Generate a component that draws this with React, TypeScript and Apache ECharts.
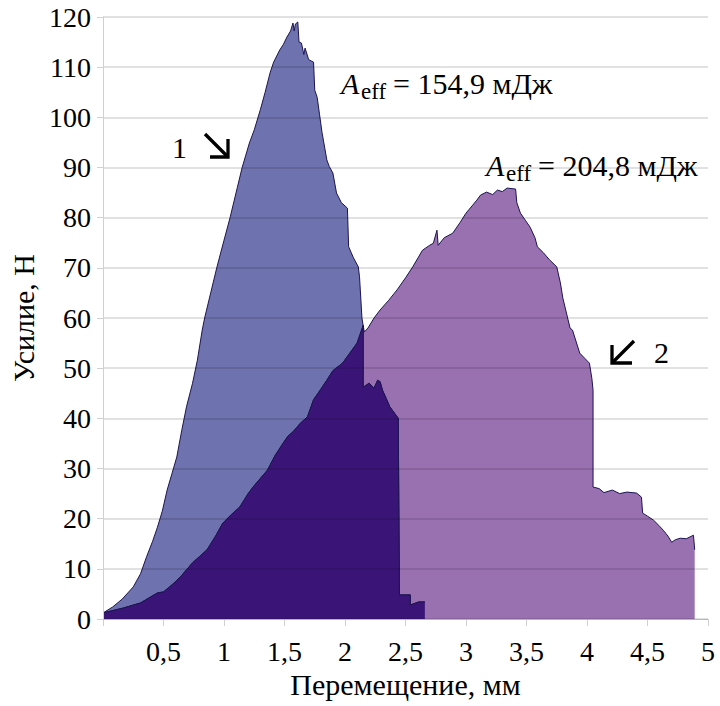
import React, { useEffect, useRef } from "react";
import * as echarts from "echarts";

// Displacement (mm), force (N) — curve 1
const curve1: [number, number][] = [
  [0, 1.2], [0.08, 2.4], [0.16, 4], [0.25, 6.4], [0.31, 9], [0.36, 12.4], [0.41, 15.5], [0.45, 18.3],
  [0.49, 21.5], [0.53, 25.7], [0.57, 29], [0.61, 32.3], [0.65, 37.5], [0.69, 42.3], [0.74, 47], [0.78, 51.6],
  [0.82, 57.6], [0.84, 60], [0.89, 65], [0.94, 70], [1.0, 75.5], [1.05, 80], [1.11, 86], [1.15, 90],
  [1.21, 94.9], [1.25, 97.5], [1.3, 101.5], [1.34, 105], [1.38, 108.8], [1.41, 111], [1.46, 113.4],
  [1.49, 114.5], [1.52, 116], [1.55, 117.2], [1.57, 118.8], [1.58, 117.2], [1.59, 118.6], [1.61, 119],
  [1.62, 115], [1.64, 114.8], [1.66, 112.5], [1.67, 113.8], [1.7, 111.5], [1.74, 111], [1.75, 105.4],
  [1.77, 104], [1.79, 100.5], [1.81, 97], [1.85, 91.5], [1.87, 90.2], [1.9, 88.9], [1.93, 84.9],
  [1.97, 83], [2.02, 81.9], [2.03, 74.2], [2.07, 72], [2.11, 70.2], [2.12, 68.2], [2.14, 60],
  [2.15, 58.5], [2.15, 46.2], [2.2, 47], [2.24, 46], [2.27, 47.6], [2.29, 47.3], [2.31, 45.6],
  [2.34, 44], [2.37, 42.3], [2.41, 41], [2.44, 40], [2.45, 4.8], [2.54, 4.8], [2.54, 2.8],
  [2.61, 3.4], [2.66, 3.4],
];

// Displacement (mm), force (N) — curve 2
const curve2: [number, number][] = [
  [0, 1.2], [0.17, 2.2], [0.31, 3.2], [0.45, 5.2], [0.5, 5.4], [0.57, 6.8], [0.64, 8.4], [0.74, 11.2],
  [0.86, 13.8], [0.93, 16.5], [0.99, 19.1], [1.06, 20.8], [1.13, 22.3], [1.2, 25], [1.24, 26.3],
  [1.3, 28], [1.36, 29.7], [1.42, 32.5], [1.49, 35.1], [1.53, 36.5], [1.57, 37.3], [1.63, 39],
  [1.69, 40.3], [1.74, 43.7], [1.8, 45.8], [1.85, 47.6], [1.9, 49.5], [1.98, 51], [2.04, 53],
  [2.1, 55], [2.15, 58.5], [2.16, 57.2], [2.19, 58], [2.24, 60], [2.29, 61.6], [2.36, 63.5],
  [2.43, 65.6], [2.5, 68], [2.56, 70.2], [2.64, 73.5], [2.7, 74.5], [2.73, 74.9], [2.76, 77.5],
  [2.77, 74.5], [2.82, 76], [2.89, 76.9], [2.95, 79], [3.0, 80.9], [3.09, 83.5], [3.12, 84.5],
  [3.17, 85.1], [3.22, 84.6], [3.26, 85.5], [3.3, 85.2], [3.34, 85.9], [3.41, 85.7], [3.42, 83],
  [3.45, 80.9], [3.49, 79.5], [3.53, 78.1], [3.57, 76], [3.59, 74.2], [3.64, 73], [3.69, 71.6],
  [3.75, 70.2], [3.78, 67], [3.8, 64], [3.83, 61], [3.86, 58], [3.88, 57.6], [3.94, 53], [3.98, 52],
  [4.02, 51], [4.04, 48], [4.05, 45.6], [4.05, 26.3], [4.1, 26], [4.14, 25.2], [4.21, 25.7],
  [4.27, 25], [4.33, 25.3], [4.41, 25.1], [4.45, 24.3], [4.46, 21.1], [4.5, 20.5], [4.55, 19.7],
  [4.6, 18.5], [4.63, 17.7], [4.67, 16.5], [4.7, 15.3], [4.73, 15.8], [4.77, 16.1], [4.82, 16],
  [4.88, 16.7], [4.89, 13.8],
];

const crossX = 2.15; // where curve 1 falls below curve 2
const energyLabels = ["154,9 мДж", "204,8 мДж"];
const curveLabels = ["1", "2"];

export default function App() {
  const ref = useRef<HTMLDivElement>(null);

  useEffect(() => {
    const el = ref.current;
    if (!el) return;
    const chart = echarts.init(el, null, { renderer: "svg" });

    const overlap = [
      ...curve2.filter((p) => p[0] < crossX),
      ...curve1.filter((p) => p[0] >= crossX),
    ];

    const txt = (x: number, y: number, text: string, size: number, italic: boolean) => ({
      type: "text",
      x,
      y,
      z: 10,
      style: italic
        ? { text, fill: "#000", fontSize: size, fontFamily: "Liberation Serif", fontStyle: "italic" }
        : { text, fill: "#000", fontSize: size, fontFamily: "Liberation Serif" },
    });

    const applySerif = () => {
      el.querySelectorAll("text").forEach((t) => {
        (t as SVGTextElement).style.fontFamily = '"Liberation Serif", "Times New Roman", serif';
      });
    };

    chart.on("rendered", applySerif);

    chart.setOption({
      animation: false,
      textStyle: { fontFamily: "Liberation Serif" },
      grid: { left: 103, right: 12, top: 17, bottom: 87 },
      xAxis: {
        type: "value",
        min: 0,
        max: 5,
        interval: 0.5,
        name: "Перемещение, мм",
        nameLocation: "middle",
        nameGap: 48,
        nameTextStyle: { fontSize: 30, fontFamily: "Liberation Serif", color: "#000" },
        axisLine: { show: true, lineStyle: { color: "#d0d0d0", width: 1 } },
        axisTick: { show: true, length: 7, lineStyle: { color: "#d0d0d0" } },
        axisLabel: {
          fontSize: 28,
          fontFamily: "Liberation Serif",
          color: "#000",
          margin: 18,
          formatter: (v: number) => (v === 0 ? "" : String(v).replace(".", ",")),
        },
        splitLine: { show: false },
      },
      yAxis: {
        type: "value",
        min: 0,
        max: 120,
        interval: 10,
        z: 5,
        name: "Усилие, Н",
        nameLocation: "middle",
        nameGap: 60,
        nameTextStyle: { fontSize: 30, fontFamily: "Liberation Serif", color: "#000" },
        axisLine: { show: true, lineStyle: { color: "#d0d0d0", width: 1 } },
        axisTick: { show: true, length: 6, lineStyle: { color: "#d0d0d0" } },
        axisLabel: { fontSize: 28, fontFamily: "Liberation Serif", color: "#000", margin: 12 },
        splitLine: { show: true, lineStyle: { color: "rgba(0,0,0,0.16)", width: 1.5 } },
      },
      series: [
        {
          type: "line",
          data: curve1,
          symbol: "none",
          lineStyle: { color: "#1c1550", width: 1 },
          areaStyle: { color: "#6e72ae", opacity: 1 },
          z: 2,
        },
        {
          type: "line",
          data: curve2,
          symbol: "none",
          lineStyle: { color: "#1c1550", width: 1 },
          areaStyle: { color: "#9a71b0", opacity: 1 },
          z: 2,
        },
        {
          type: "line",
          data: overlap,
          symbol: "none",
          lineStyle: { color: "#1c1550", width: 1 },
          areaStyle: { color: "#3a1577", opacity: 1 },
          z: 3,
        },
      ],
      graphic: [
        txt(341, 68, "A", 30, true),
        txt(361, 80, "eff", 23, false),
        txt(393, 68, "= " + energyLabels[0], 30, false),
        txt(486, 150, "A", 30, true),
        txt(506, 162, "eff", 23, false),
        txt(538, 150, "= " + energyLabels[1], 30, false),
        txt(172, 132, curveLabels[0], 30, false),
        txt(654, 337, curveLabels[1], 30, false),
        { type: "line", z: 10, shape: { x1: 205, y1: 134, x2: 228, y2: 157 }, style: { stroke: "#000", lineWidth: 3.3 } },
        {
          type: "polyline",
          z: 10,
          shape: { points: [[228, 139], [228, 157], [210, 157]] },
          style: { stroke: "#000", lineWidth: 3.3 },
        },
        { type: "line", z: 10, shape: { x1: 634, y1: 341, x2: 612, y2: 363 }, style: { stroke: "#000", lineWidth: 3.3 } },
        {
          type: "polyline",
          z: 10,
          shape: { points: [[612, 345], [612, 363], [632, 363]] },
          style: { stroke: "#000", lineWidth: 3.3 },
        },
      ],
    });

    applySerif();
    const raf = requestAnimationFrame(applySerif);

    return () => {
      cancelAnimationFrame(raf);
      chart.dispose();
    };
  }, []);

  return (
    <div
      ref={ref}
      style={{ position: "fixed", left: 0, top: 0, width: 720, height: 706, background: "#fff" }}
    />
  );
}
